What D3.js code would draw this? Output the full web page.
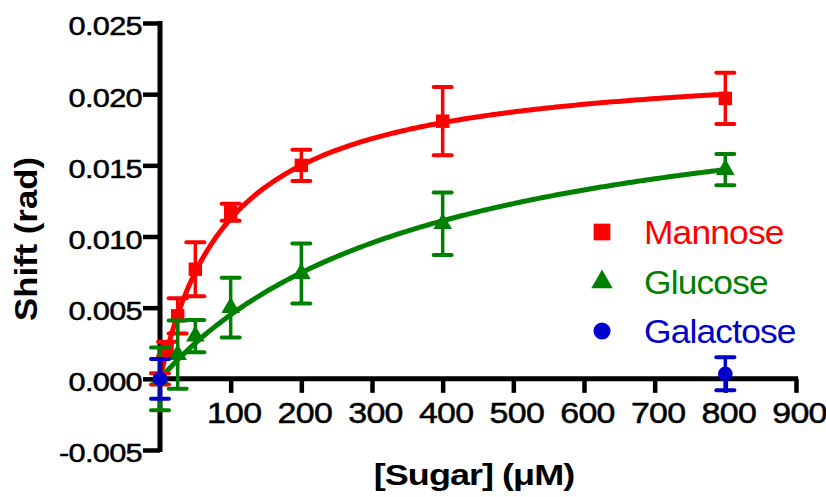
<!DOCTYPE html>
<html><head><meta charset="utf-8">
<script src="https://cdn.jsdelivr.net/npm/d3@7"></script>
<style>body{margin:0;background:#fff}svg{display:block}text{font-family:"Liberation Sans",Arial,sans-serif}</style>
</head><body>
<svg id="c" width="826" height="497"></svg>
<script>
// ---- data ----
const seriesNames = ["Mannose", "Glucose", "Galactose"];
const seriesColors = ["#ff0000", "#008000", "#0000cc"];
const mannoseX = [0, 10, 25, 50, 100, 200, 400, 800];
const mannoseY = [0.0000, 0.0021, 0.00443, 0.0077, 0.0117, 0.0150, 0.0181, 0.0197];
const mannoseErr = [0.0004, 0.0005, 0.00124, 0.0019, 0.0006, 0.0011, 0.0024, 0.0018];
const glucoseX = [0, 25, 50, 100, 200, 400, 800];
const glucoseY = [0.0000, 0.0017, 0.0030, 0.0050, 0.0074, 0.0109, 0.0147];
const glucoseErr = [0.0022, 0.0024, 0.00113, 0.0021, 0.0021, 0.0022, 0.0011];
const galactoseX = [0, 800];
const galactoseY = [0.0000, 0.00035];
const galactoseErr = [0.0014, 0.00116];
// one-site binding fit parameters (Bmax, Kd) per series
const fitBmax = [0.0225, 0.02174, 0];
const fitKd = [100, 383, 100];
const xTicks = [100, 200, 300, 400, 500, 600, 700, 800, 900];
const yTicks = [-0.005, 0.000, 0.005, 0.010, 0.015, 0.020, 0.025];
const yTickLabels = ["-0.005", "0.000", "0.005", "0.010", "0.015", "0.020", "0.025"];
const xTitle = "[Sugar] (\u03bcM)";
const yTitle = "Shift (rad)";

const series = [
  {x: mannoseX, y: mannoseY, e: mannoseErr, shape: "square"},
  {x: glucoseX, y: glucoseY, e: glucoseErr, shape: "triangle"},
  {x: galactoseX, y: galactoseY, e: galactoseErr, shape: "circle"}
];

const svg = d3.select("#c");
const x = d3.scaleLinear().domain([0, 900]).range([160, 796]);
const y = d3.scaleLinear().domain([-0.005, 0.025]).range([450, 23]);

function stretchText(sel, sx, ox) {
  sel.each(function() {
    const t = d3.select(this);
    const tx = (+t.attr("x") || 0) + (ox || 0), ty = +t.attr("y") || 0;
    t.attr("x", 0).attr("y", 0)
     .attr("transform", `translate(${tx},${ty}) scale(${sx},1)`);
  });
}

const symbolGen = {
  square: d3.symbol().type(d3.symbolSquare).size(180),
  triangle: d3.symbol().type(d3.symbolTriangle).size(150),
  circle: d3.symbol().type(d3.symbolCircle).size(170)
};

// fit curves
const curveXs = d3.range(0, 801, 4);
const line = d3.line().x(d => x(d[0])).y(d => y(d[1]));
series.forEach((s, i) => {
  if (fitBmax[i] === 0) return;
  const pts = curveXs.map(v => [v, fitBmax[i] * v / (fitKd[i] + v)]);
  svg.append("path").attr("d", line(pts)).attr("fill", "none")
    .attr("stroke", seriesColors[i]).attr("stroke-width", 5);
});

// axes
const axisG = svg.append("g");
axisG.append("line").attr("x1", x(0)).attr("x2", x(0)).attr("y1", y(0.025) - 2).attr("y2", y(-0.005) + 2)
  .attr("stroke", "#000").attr("stroke-width", 5);
axisG.append("line").attr("x1", x(0) - 2).attr("x2", x(900) + 2).attr("y1", y(0)).attr("y2", y(0))
  .attr("stroke", "#000").attr("stroke-width", 5);
const yAx = svg.append("g").attr("transform", `translate(${x(0)},0)`)
  .call(d3.axisLeft(y).tickValues(yTicks).tickFormat((d, i) => yTickLabels[i]).tickSize(17).tickPadding(1));
yAx.select(".domain").remove();
yAx.selectAll(".tick line").attr("stroke", "#000").attr("stroke-width", 4.5);
yAx.selectAll(".tick text").attr("font-size", 26.5).attr("fill", "#000")
  .attr("stroke", "#000").attr("stroke-width", 0.5)
  .attr("font-family", "Liberation Sans, Arial, sans-serif").attr("dy", "0.45em").attr("letter-spacing", -0.6)
  .call(stretchText, 1.16, 0);
const xAx = svg.append("g").attr("transform", `translate(0,${y(0)})`)
  .call(d3.axisBottom(x).tickValues(xTicks).tickFormat(d3.format("d")).tickSize(14).tickPadding(10));
xAx.select(".domain").remove();
xAx.selectAll(".tick line").attr("stroke", "#000").attr("stroke-width", 4.5);
xAx.selectAll(".tick text").attr("font-size", 29).attr("fill", "#000")
  .attr("stroke", "#000").attr("stroke-width", 0.5)
  .attr("font-family", "Liberation Sans, Arial, sans-serif").attr("letter-spacing", -0.6).attr("dy", "0.71em")
  .call(stretchText, 1.17, 3);

// error bars + points
series.forEach((s, i) => {
  const g = svg.append("g").attr("stroke", seriesColors[i]).attr("fill", seriesColors[i]);
  s.x.forEach((xv, j) => {
    const cx = x(xv), top = y(s.y[j] + s.e[j]), bot = y(s.y[j] - s.e[j]);
    g.append("line").attr("x1", cx).attr("x2", cx).attr("y1", top).attr("y2", bot)
      .attr("stroke-width", 3.5);
    [top, bot].forEach(yy => g.append("line").attr("x1", cx - 9).attr("x2", cx + 9)
      .attr("y1", yy).attr("y2", yy).attr("stroke-width", 4).attr("stroke-linecap", "round"));
    g.append("path").attr("d", symbolGen[s.shape]()).attr("stroke", "none")
      .attr("transform", `translate(${cx},${y(s.y[j])})`);
  });
});

// legend
const legY = [232, 282, 331];
seriesNames.forEach((n, i) => {
  svg.append("path").attr("d", d3.symbol().type([d3.symbolSquare, d3.symbolTriangle, d3.symbolCircle][i]).size([280, 200, 230][i])())
    .attr("fill", seriesColors[i]).attr("transform", `translate(602,${legY[i]})`);
  svg.append("text").attr("x", 644).attr("y", legY[i] + 12).attr("font-size", 34)
    .attr("fill", seriesColors[i]).attr("letter-spacing", -0.8).text(n)
    .call(stretchText, 1.04, 0);
});

// titles
svg.append("text").attr("x", 474).attr("y", 485).attr("text-anchor", "middle")
  .attr("font-size", 30).attr("font-weight", "bold").attr("letter-spacing", -0.8).text(xTitle)
  .call(stretchText, 1.2, 0);
svg.append("text").attr("transform", "translate(37,239) rotate(-90) scale(1.12,1)")
  .attr("text-anchor", "middle").attr("font-size", 31).attr("font-weight", "bold").text(yTitle);
</script>
</body></html>
